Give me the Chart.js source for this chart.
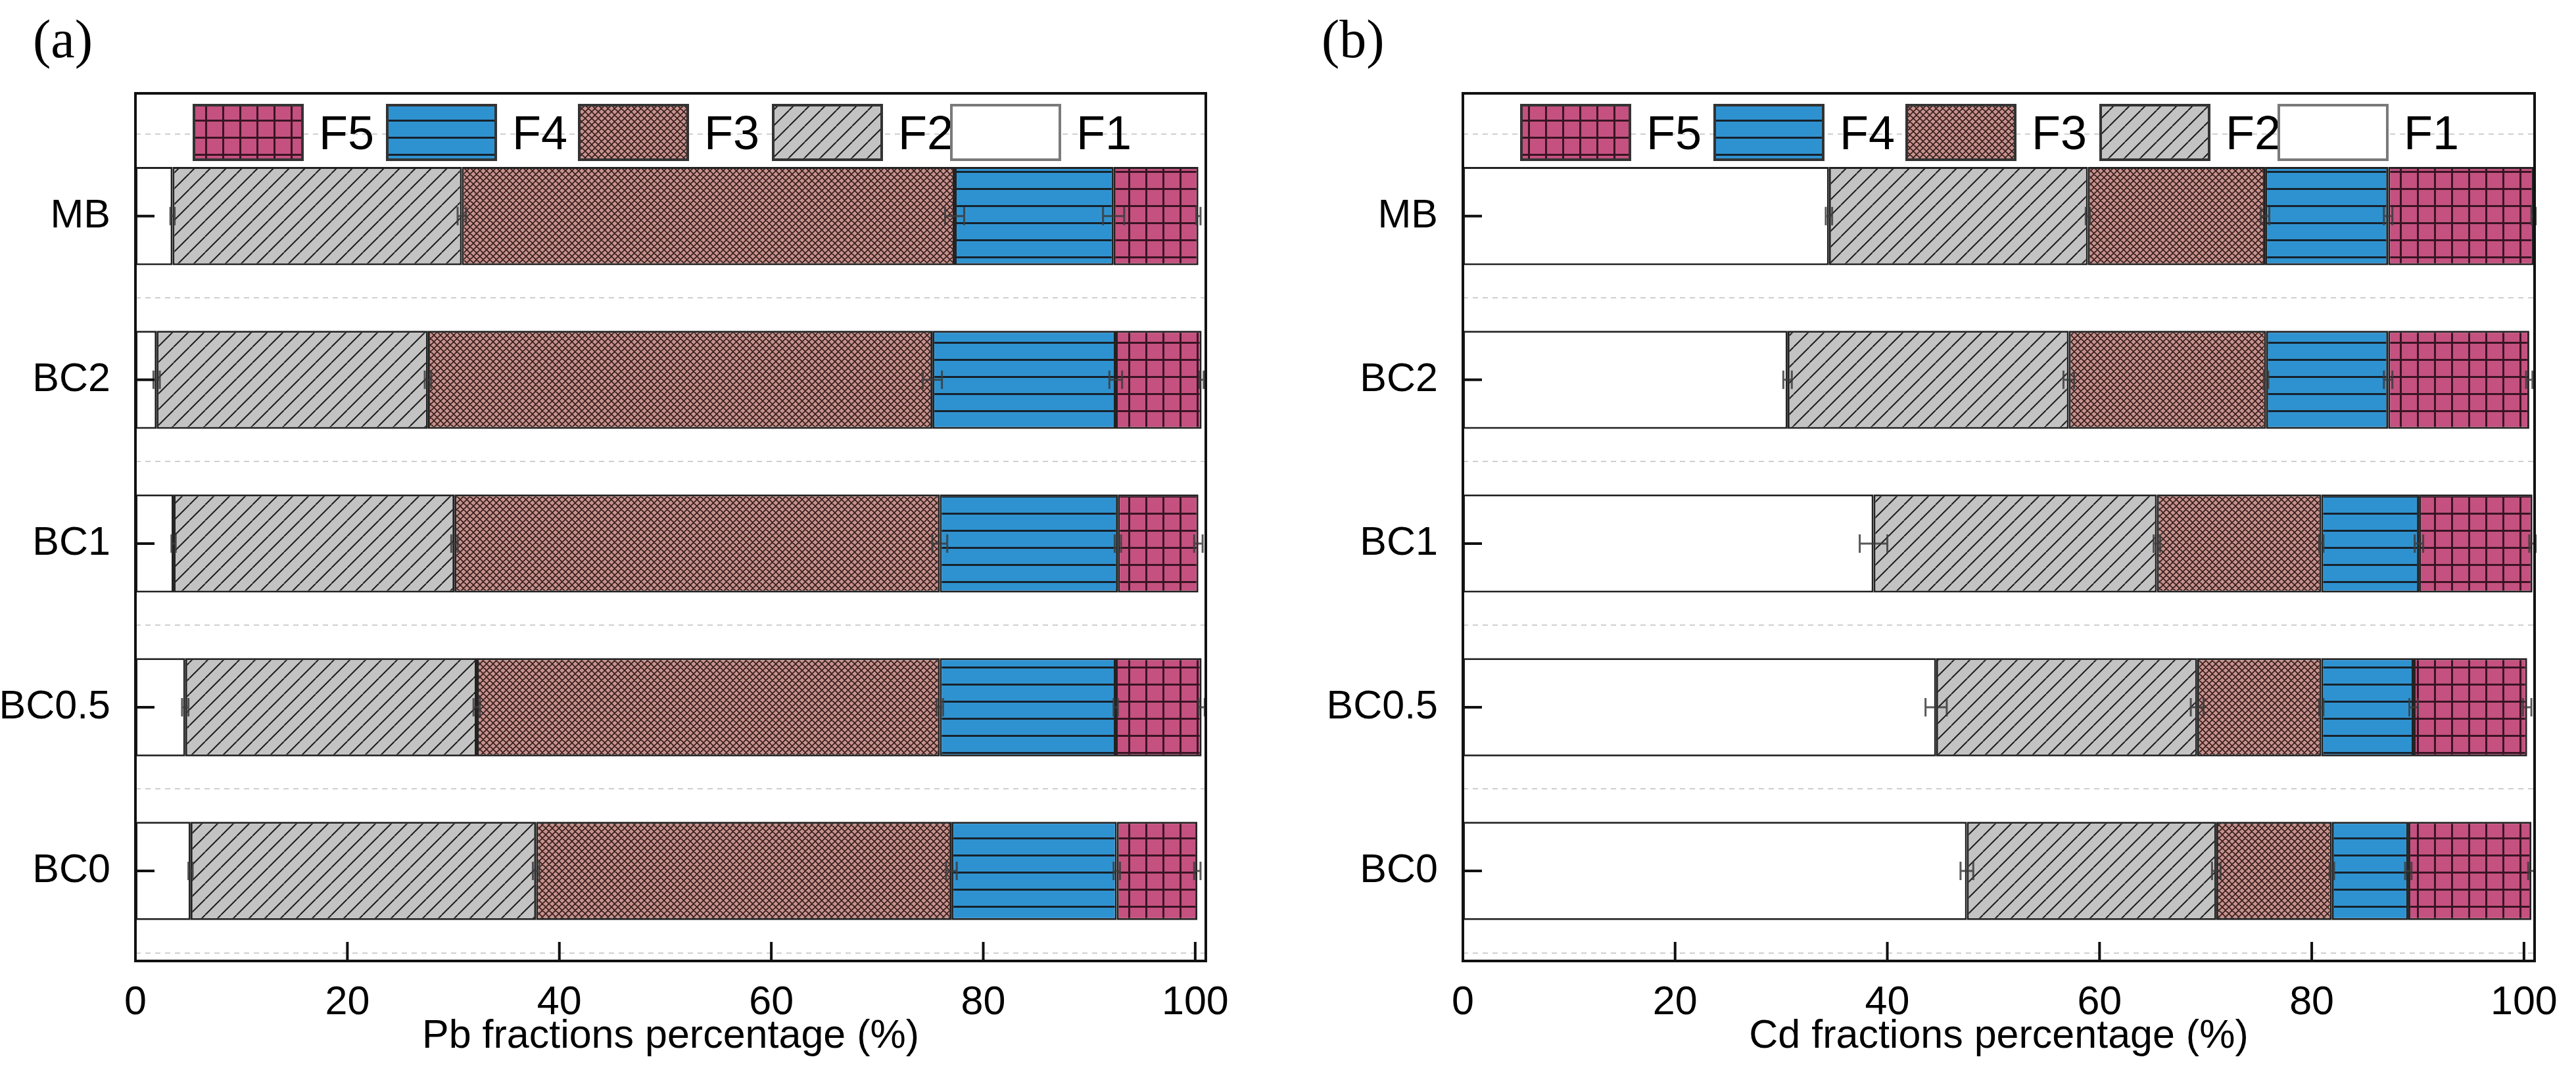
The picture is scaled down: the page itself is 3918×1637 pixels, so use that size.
<!DOCTYPE html>
<html>
<head>
<meta charset="utf-8">
<script src="https://cdn.jsdelivr.net/npm/chart.js@4.4.0/dist/chart.umd.min.js"></script>
<style>
	html, body { margin: 0; padding: 0; background: #fff; }
	#lienzo { position: relative; width: 3918px; height: 1637px; }
	canvas { position: absolute; top: 0; }
</style>
</head>
<body>
<div id="lienzo">
	<canvas id="chartPb" width="1960" height="1637" style="left:0px"></canvas>
	<canvas id="chartCd" width="1958" height="1637" style="left:1960px"></canvas>
</div>
<script>
// categorias de abajo hacia arriba
const categorias = ['BC0', 'BC0.5', 'BC1', 'BC2', 'MB'];
const fracciones = ['F1', 'F2', 'F3', 'F4', 'F5'];
const ticksX     = [0, 20, 40, 60, 80, 100];

// Pb (%)
const pbF1 = [5.2, 4.7, 3.6, 2.0, 3.5];
const pbF2 = [32.6, 27.5, 26.5, 25.6, 27.3];
const pbF3 = [39.2, 43.7, 45.8, 47.6, 46.5];
const pbF4 = [15.6, 16.6, 16.8, 17.3, 15.0];
const pbF5 = [7.6, 8.1, 7.6, 8.1, 8.0];

const pbErrF1 = [0.2, 0.3, 0.2, 0.3, 0.2];
const pbErrF2 = [0.3, 0.3, 0.3, 0.3, 0.4];
const pbErrF3 = [0.5, 0.3, 0.7, 0.9, 0.9];
const pbErrF4 = [0.3, 0.2, 0.3, 0.6, 1.0];
const pbErrF5 = [0.3, 0.3, 0.4, 0.2, 0.2];

// Cd (%)
const cdF1 = [47.5, 44.6, 38.7, 30.6, 34.5];
const cdF2 = [23.5, 24.6, 26.7, 26.5, 24.4];
const cdF3 = [10.9, 11.7, 15.5, 18.6, 16.7];
const cdF4 = [7.2, 8.7, 9.2, 11.5, 11.6];
const cdF5 = [11.6, 10.7, 10.7, 13.3, 13.7];

const cdErrF1 = [0.6, 1.0, 1.3, 0.4, 0.3];
const cdErrF2 = [0.4, 0.6, 0.3, 0.5, 0.2];
const cdErrF3 = [0.2, 0.2, 0.2, 0.2, 0.4];
const cdErrF4 = [0.3, 0.4, 0.4, 0.4, 0.4];
const cdErrF5 = [0.3, 0.4, 0.3, 0.3, 0.2];

const FUENTE = "'Liberation Sans', Arial, sans-serif";

function crearPatron(tipo){
	if( tipo === 'F1' ){ return '#ffffff'; }
	let c = document.createElement('canvas');
	let g = c.getContext('2d');
	if( tipo === 'F2' ){
		let s = 24;
		c.width = s; c.height = s;
		g.fillStyle = '#c3c3c3';
		g.fillRect(0, 0, s, s);
		g.strokeStyle = '#1e1e1e';
		g.lineWidth = 2;
		g.beginPath();
		for (let i = -1; i <= 1; i++) {
			g.moveTo(i * s, s); g.lineTo(i * s + s, 0);
		}
		g.stroke();
	}else if( tipo === 'F3' ){
		let s = 10;
		c.width = s; c.height = s;
		g.fillStyle = '#c7928d';
		g.fillRect(0, 0, s, s);
		g.strokeStyle = 'rgba(35,15,15,0.9)';
		g.lineWidth = 1.6;
		g.beginPath();
		for (let i = -1; i <= 1; i++) {
			g.moveTo(i * s, s); g.lineTo(i * s + s, 0);
			g.moveTo(i * s, 0); g.lineTo(i * s + s, s);
		}
		g.stroke();
	}else if( tipo === 'F4' ){
		let s = 26;
		c.width = s; c.height = s;
		g.fillStyle = '#2f92d0';
		g.fillRect(0, 0, s, s);
		g.fillStyle = '#16222c';
		g.fillRect(0, 0, s, 3);
	}else{
		let s = 26;
		c.width = s; c.height = s;
		g.fillStyle = '#c4517f';
		g.fillRect(0, 0, s, s);
		g.fillStyle = '#3a1424';
		g.fillRect(0, 0, s, 3);
		g.fillRect(0, 0, 3, s);
	}
	return g.createPattern(c, 'repeat');
}

const patrones = fracciones.map(f => crearPatron(f));

function armarDatasets(series){
	return series.map((serie, k) => ({
		label 						 : fracciones[k],
		data 							 : serie.map((v, i) => ({ x: v, y: i + 1 })),
		backgroundColor 	 : patrones[k],
		borderColor 			 : '#222',
		borderWidth 			 : 3,
		borderSkipped 		 : false,
		categoryPercentage : 0.6,
		barPercentage 		 : 1.0
	}));
}

// barras de error al final de cada fraccion acumulada
const barrasError = {
	id: 'barrasError',
	afterDatasetsDraw(chart, args, opts){
		let ctx = chart.ctx, sx = chart.scales.x, sy = chart.scales.y;
		ctx.save();
		ctx.strokeStyle = 'rgba(60,60,60,0.85)';
		ctx.lineWidth = 3;
		for (let i = 0; i < categorias.length; i++) {
			let acumulado = 0;
			for (let k = 0; k < opts.series.length; k++) {
				acumulado += opts.series[k][i];
				let e  = opts.errores[k][i];
				let py = sy.getPixelForValue(i + 1);
				let x1 = sx.getPixelForValue(acumulado - e);
				let x2 = sx.getPixelForValue(acumulado + e);
				ctx.beginPath();
				ctx.moveTo(x1, py); ctx.lineTo(x2, py);
				ctx.moveTo(x1, py - 14); ctx.lineTo(x1, py + 14);
				ctx.moveTo(x2, py - 14); ctx.lineTo(x2, py + 14);
				ctx.stroke();
			}
		}
		ctx.restore();
	}
};

// marco, ticks hacia dentro, leyenda interna y etiqueta del panel
const marco = {
	id: 'marco',
	afterDraw(chart, args, opts){
		let ctx = chart.ctx, a = chart.chartArea, sx = chart.scales.x, sy = chart.scales.y;
		ctx.save();
		// leyenda
		let offs = [89, 383, 675, 970, 1241];
		let orden = [4, 3, 2, 1, 0];
		ctx.font = '72px ' + FUENTE;
		ctx.textBaseline = 'alphabetic';
		orden.forEach((k, j) => {
			let x0 = a.left + offs[j], y0 = a.top + 18;
			ctx.fillStyle = patrones[k];
			ctx.fillRect(x0, y0, 165, 83);
			ctx.strokeStyle = k === 0 ? '#7a7a7a' : '#333';
			ctx.lineWidth = 4;
			ctx.strokeRect(x0, y0, 165, 83);
			ctx.fillStyle = '#000';
			ctx.fillText(fracciones[k], x0 + 190, y0 + 67);
		});
		// ticks
		ctx.strokeStyle = '#111';
		ctx.lineWidth = 4;
		ctx.beginPath();
		sy.ticks.forEach(t => {
			let py = sy.getPixelForValue(t.value);
			ctx.moveTo(a.left, py); ctx.lineTo(a.left + 29, py);
		});
		sx.ticks.forEach(t => {
			let px = sx.getPixelForValue(t.value);
			ctx.moveTo(px, a.bottom); ctx.lineTo(px, a.bottom - 29);
		});
		ctx.stroke();
		ctx.strokeRect(a.left, a.top, a.right - a.left, a.bottom - a.top);
		// etiqueta (a) / (b)
		ctx.font = '82px "Liberation Serif", "Times New Roman", serif';
		ctx.fillStyle = '#000';
		ctx.fillText(opts.etiqueta, 50, 87);
		ctx.restore();
	}
};

function createChart(idCanvas, series, errores, titulo, etiqueta, izquierda, derecha){
	let ctx = document.getElementById(idCanvas).getContext('2d');
	return new Chart(ctx, {
		type : 'bar',
		data : { datasets : armarDatasets(series) },
		plugins : [barrasError, marco],
		options : {
			indexAxis 				: 'y',
			responsive 			 : false,
			devicePixelRatio : 1,
			animation 				: false,
			layout : { padding : { left: 0, top: 142, right: derecha, bottom: 0 } },
			plugins : {
				legend 	 : { display: false },
				tooltip 	: { enabled: false },
				barrasError : { series: series, errores: errores },
				marco 			: { etiqueta: etiqueta }
			},
			scales : {
				x : {
					type : 'linear', stacked : true, min : 0, max : 101, offset : false,
					afterBuildTicks : s => { s.ticks = ticksX.map(v => ({ value: v })); },
					afterFit : s => { s.height = 175; },
					grid : { display: false, offset: false },
					border : { display: false },
					ticks : { font: { family: FUENTE, size: 61 }, color: '#000', padding: 20 },
					title : {
						display : true, text : titulo, color : '#000',
						font : { family: FUENTE, size: 61 },
						padding : { top: 0, bottom: 23 }
					}
				},
				y : {
					type : 'linear', stacked : true, position : 'left', min : 0.45, max : 5.75, offset : false,
					afterBuildTicks : s => { s.ticks = categorias.map((c, i) => ({ value: i + 1 })); },
					afterFit : s => { s.width = izquierda; },
					grid : { display: false, offset: false },
					border : { display: false },
					ticks : {
						font : { family: FUENTE, size: 61 }, color : '#000', padding : 30,
						callback : v => categorias[Math.round(v) - 1]
					}
				},
				yg : {
					type : 'linear', position : 'left', min : 0.45, max : 5.75, offset : false,
					afterBuildTicks : s => { s.ticks = categorias.concat(['']).map((c, i) => ({ value: i + 0.5 })); },
					afterFit : s => { s.width = 0; },
					grid : { color: '#cfcfcf', lineWidth: 2, drawTicks: false, offset: false },
					border : { display: false, dash: [8, 7] },
					ticks : { display: false }
				}
			}
		}
	});
}

createChart('chartPb', [pbF1, pbF2, pbF3, pbF4, pbF5], [pbErrF1, pbErrF2, pbErrF3, pbErrF4, pbErrF5],
	'Pb fractions percentage (%)', '(a)', 206, 126);
createChart('chartCd', [cdF1, cdF2, cdF3, cdF4, cdF5], [cdErrF1, cdErrF2, cdErrF3, cdErrF4, cdErrF5],
	'Cd fractions percentage (%)', '(b)', 265, 63);
</script>
</body>
</html>
